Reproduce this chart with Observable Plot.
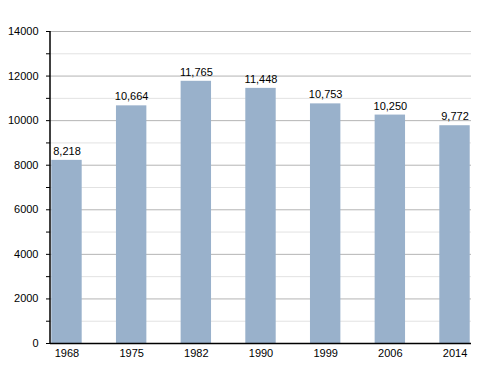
<!DOCTYPE html>
<html>
<head>
<meta charset="utf-8">
<script src="https://cdn.jsdelivr.net/npm/d3@7"></script>
<script src="https://cdn.jsdelivr.net/npm/@observablehq/plot@0.6"></script>
<style>
  html, body { margin: 0; padding: 0; background: #fff; }
  svg { display: block; }
</style>
</head>
<body>
<div id="chart"></div>
<script>
const years = ["1968", "1975", "1982", "1990", "1999", "2006", "2014"];
const population = [8218, 10664, 11765, 11448, 10753, 10250, 9772];
const majorTicks = [0, 2000, 4000, 6000, 8000, 10000, 12000, 14000];
const minorTicks = [1000, 3000, 5000, 7000, 9000, 11000, 13000];

const data = years.map((y, i) => ({ year: y, value: population[i] }));
const fmt = d3.format(",");

const chart = Plot.plot({
  width: 500,
  height: 373,
  marginLeft: 50,
  marginRight: 29,
  marginTop: 31,
  marginBottom: 30,
  style: { fontFamily: "Liberation Sans, Arial, sans-serif", fontSize: "11px", color: "#000", background: "#fff" },
  x: { domain: years, paddingInner: 0.53, paddingOuter: 0.02, round: false, label: null },
  y: { domain: [0, 14000], label: null },
  marks: [
    Plot.ruleY(minorTicks, { stroke: "#e2e2e2", strokeWidth: 1 }),
    Plot.ruleY(majorTicks.filter(d => d > 0), { stroke: "#b4b4b4", strokeWidth: 1 }),
    Plot.barY(data, { x: "year", y: "value", fill: "#99b1cb" }),
    Plot.text(data, { x: "year", y: "value", text: d => fmt(d.value), dy: -9, fill: "#000", fontSize: 11 }),
    Plot.axisY(d3.range(0, 14001, 1000), {
      tickSize: 4, tickPadding: 8,
      tickFormat: d => d % 2000 === 0 ? String(d) : "",
      stroke: "#000", fontSize: 11
    }),
    Plot.axisX({ tickSize: 0, tickPadding: 6, fontSize: 11 }),
    Plot.ruleY([0], { stroke: "#000", strokeWidth: 1.5 })
  ]
});

// left axis line
const svg = d3.select(chart);
svg.append("line")
  .attr("x1", 50).attr("x2", 50)
  .attr("y1", 31).attr("y2", 343)
  .attr("stroke", "#000").attr("stroke-width", 1.5);

document.getElementById("chart").appendChild(chart);
</script>
</body>
</html>
